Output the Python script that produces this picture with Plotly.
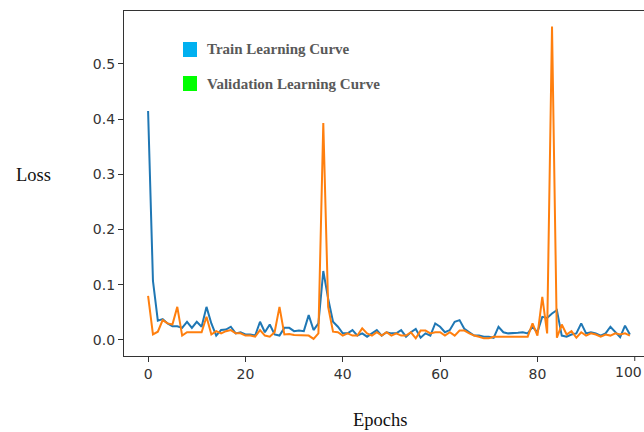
import plotly.graph_objects as go

epochs = list(range(100))
train_loss = [
    0.415, 0.107, 0.035, 0.038, 0.030, 0.025, 0.025, 0.022, 0.033, 0.022,
    0.033, 0.024, 0.060, 0.030, 0.008, 0.018, 0.019, 0.024, 0.012, 0.014,
    0.010, 0.010, 0.008, 0.033, 0.014, 0.028, 0.010, 0.008, 0.022, 0.022,
    0.016, 0.017, 0.016, 0.045, 0.018, 0.030, 0.125, 0.075, 0.033, 0.024,
    0.012, 0.012, 0.018, 0.008, 0.012, 0.006, 0.012, 0.018, 0.008, 0.014,
    0.012, 0.012, 0.018, 0.006, 0.014, 0.020, 0.004, 0.012, 0.008, 0.030,
    0.024, 0.014, 0.018, 0.033, 0.036, 0.020, 0.014, 0.008, 0.008, 0.006,
    0.006, 0.004, 0.024, 0.014, 0.012, 0.012, 0.013, 0.014, 0.012, 0.024,
    0.014, 0.042, 0.040, 0.048, 0.054, 0.008, 0.006, 0.010, 0.012, 0.030,
    0.012, 0.014, 0.012, 0.008, 0.012, 0.024, 0.014, 0.005, 0.026, 0.010,
]
val_loss = [
    0.080, 0.010, 0.015, 0.036, 0.030, 0.028, 0.060, 0.008, 0.014, 0.014,
    0.014, 0.014, 0.042, 0.010, 0.016, 0.012, 0.016, 0.018, 0.012, 0.012,
    0.008, 0.008, 0.006, 0.018, 0.008, 0.006, 0.014, 0.060, 0.010, 0.011,
    0.009, 0.009, 0.009, 0.008, 0.002, 0.012, 0.393, 0.060, 0.015, 0.014,
    0.008, 0.012, 0.008, 0.008, 0.021, 0.012, 0.008, 0.014, 0.008, 0.014,
    0.008, 0.012, 0.008, 0.008, 0.014, 0.003, 0.017, 0.017, 0.012, 0.014,
    0.014, 0.008, 0.014, 0.008, 0.017, 0.017, 0.012, 0.008, 0.006, 0.003,
    0.003, 0.006, 0.006, 0.006, 0.006, 0.006, 0.006, 0.006, 0.006, 0.030,
    0.008, 0.078, 0.012, 0.568, 0.004, 0.028, 0.010, 0.016, 0.004, 0.014,
    0.008, 0.012, 0.010, 0.006, 0.010, 0.008, 0.012, 0.010, 0.012, 0.008,
]
x_ticks = [0, 20, 40, 60, 80, 100]
x_tick_text = ["0", "20", "40", "60", "80", "100"]
y_ticks = [0.0, 0.1, 0.2, 0.3, 0.4, 0.5]
y_tick_text = ["0.0", "0.1", "0.2", "0.3", "0.4", "0.5"]
legend_labels = ["Train Learning Curve", "Validation Learning Curve"]
legend_colors = ["#00b0f0", "#00ff00"]

W, H = 644, 432
L, T, R, B = 124, 11, 0, 76
pw, ph = W - L - R, H - T - B


def px(x):
    return (x - L) / pw


def py(y):
    return (H - B - y) / ph


tick_font = dict(family="DejaVu Sans", size=14, color="#333")

fig = go.Figure()
fig.add_trace(go.Scatter(x=epochs, y=train_loss, mode="lines",
                         line=dict(color="#1f77b4", width=2), showlegend=False))
fig.add_trace(go.Scatter(x=epochs, y=val_loss, mode="lines",
                         line=dict(color="#ff7f0e", width=2), showlegend=False))

shapes = []
annotations = []
for i, (lab, col) in enumerate(zip(legend_labels, legend_colors)):
    top = 42 + i * 34
    shapes.append(dict(type="rect", xref="paper", yref="paper",
                       x0=px(183), x1=px(197), y0=py(top + 15), y1=py(top),
                       fillcolor=col, line=dict(width=0)))
    annotations.append(dict(text="<b>" + lab + "</b>", xref="paper", yref="paper",
                            x=px(205), y=py(top + 7.5), xanchor="left", yanchor="middle",
                            showarrow=False,
                            font=dict(family="Liberation Serif", size=15, color="#595959")))

annotations.append(dict(text="Loss", xref="paper", yref="paper", x=px(33), y=py(175),
                        xanchor="center", yanchor="middle", showarrow=False,
                        font=dict(family="Liberation Serif", size=18.5, color="#111")))
annotations.append(dict(text="Epochs", xref="paper", yref="paper", x=px(380), y=py(420),
                        xanchor="center", yanchor="middle", showarrow=False,
                        font=dict(family="Liberation Serif", size=18.5, color="#111")))
# last x tick label, kept just inside the figure's right edge
annotations.append(dict(text=x_tick_text[-1], xref="paper", yref="paper", x=1.0,
                        y=py(372), xanchor="right", yanchor="middle", showarrow=False,
                        font=tick_font))

fig.update_layout(
    width=W, height=H,
    margin=dict(l=L, r=R, t=T, b=B, pad=0),
    paper_bgcolor="white", plot_bgcolor="white",
    shapes=shapes, annotations=annotations,
    xaxis=dict(range=[-4.95, 101.9], tickvals=x_ticks[:-1], ticktext=x_tick_text[:-1],
               showgrid=False, zeroline=False,
               showline=True, linecolor="#333", linewidth=1.2, mirror=True,
               ticks="outside", ticklen=5, tickcolor="#333", tickfont=tick_font),
    yaxis=dict(range=[-0.029, 0.596], tickvals=y_ticks, ticktext=y_tick_text,
               showgrid=False, zeroline=False,
               showline=True, linecolor="#333", linewidth=1.2,
               ticks="outside", ticklen=5, tickcolor="#333", tickfont=tick_font),
)
# tick mark at 100 without a built-in label
fig.add_shape(type="line", xref="x", yref="paper", x0=100, x1=100,
              y0=0, y1=-5 / ph, line=dict(color="#333", width=1))

fig.write_html("out.html")
